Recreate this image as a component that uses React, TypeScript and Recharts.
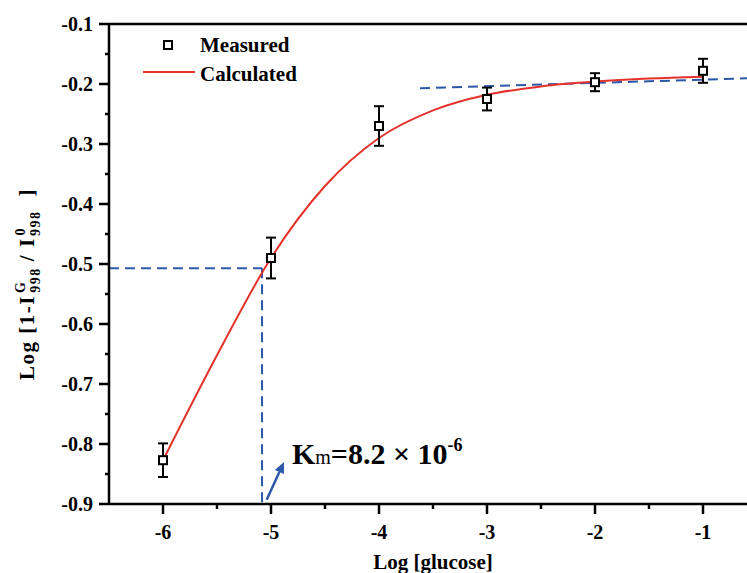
import React from 'react';
import {
  ComposedChart,
  XAxis,
  YAxis,
  Line,
  Scatter,
  ErrorBar,
  ReferenceLine,
  ReferenceDot,
  Legend,
} from 'recharts';

// measured points (log glucose vs log[1 - I/I0])
const logGlucose = [-6, -5, -4, -3, -2, -1];
const measured = [-0.827, -0.49, -0.27, -0.225, -0.197, -0.178];
const measuredErr = [0.028, 0.034, 0.033, 0.019, 0.015, 0.02];

// calculated curve
const curveX = [-6, -5.5, -5, -4.5, -4, -3.5, -3, -2.5, -2, -1.5, -1];
const curveY = [-0.827, -0.652, -0.49, -0.37, -0.29, -0.244, -0.218, -0.204, -0.196, -0.191, -0.188];

// Km guide lines and plateau line
const kmLogX = -5.083;
const kmLogY = -0.507;
const plateauLine = [
  { x: -3.62, y: -0.207 },
  { x: -0.5, y: -0.19 },
];
const kmArrow = [
  { x: -5.04, y: -0.893 },
  { x: -4.88, y: -0.83 },
];
const kmLabelAt = { x: -4.806, y: -0.833 };

const xMajor = [-6, -5, -4, -3, -2, -1];
const xMinor = [-5.5, -4.5, -3.5, -2.5, -1.5];
const yMajor = [-0.9, -0.8, -0.7, -0.6, -0.5, -0.4, -0.3, -0.2, -0.1];
const yMinor = [-0.85, -0.75, -0.65, -0.55, -0.45, -0.35, -0.25, -0.15];

const measuredData = logGlucose.map((x, i) => ({ x, y: measured[i], err: measuredErr[i] }));
const curveData = curveX.map((x, i) => ({ x, y: curveY[i] }));

const FONT = '"Liberation Serif", "Times New Roman", serif';
const BLUE = '#2b58a8';
const RED = '#e4322b';

const XTick = (props: any) => {
  const { x, y, payload } = props;
  const major = Number.isInteger(payload.value);
  return (
    <g>
      <line x1={x} y1={y} x2={x} y2={y + (major ? 10 : 5)} stroke="#000" strokeWidth={2.5} />
      {major && (
        <text x={x} y={y + 35} textAnchor="middle" fontFamily={FONT} fontWeight="bold" fontSize={20} fill="#000">
          {payload.value}
        </text>
      )}
    </g>
  );
};

const YTick = (props: any) => {
  const { x, y, payload } = props;
  const major = Math.round(payload.value * 100) % 10 === 0;
  return (
    <g>
      <line x1={x - (major ? 10 : 4)} y1={y} x2={x} y2={y} stroke="#000" strokeWidth={2.5} />
      {major && (
        <text x={x - 16} y={y} dy="0.35em" textAnchor="end" fontFamily={FONT} fontWeight="bold" fontSize={20} fill="#000">
          {payload.value.toFixed(1)}
        </text>
      )}
    </g>
  );
};

const Square = (props: any) => {
  const { cx, cy } = props;
  return <rect x={cx - 4} y={cy - 4} width={8} height={8} fill="#fff" stroke="#000" strokeWidth={2} />;
};

const Arrow = (props: any) => {
  const { x1, y1, x2, y2 } = props;
  const a = Math.atan2(y2 - y1, x2 - x1);
  const len = 11;
  const w = 5;
  const bx = x2 - len * Math.cos(a);
  const by = y2 - len * Math.sin(a);
  const px = -Math.sin(a) * w;
  const py = Math.cos(a) * w;
  return (
    <g>
      <line x1={x1} y1={y1} x2={bx} y2={by} stroke={BLUE} strokeWidth={2.5} />
      <polygon points={`${x2},${y2} ${bx + px},${by + py} ${bx - px},${by - py}`} fill={BLUE} />
    </g>
  );
};

const KmText = (props: any) => {
  const { cx, cy } = props;
  return (
    <text x={cx} y={cy} fontFamily={FONT} fontWeight="bold" fill="#000">
      <tspan fontSize={30}>K</tspan>
      <tspan fontSize={20} fontWeight="normal">m</tspan>
      <tspan fontSize={30}>=8.2 × 10</tspan>
      <tspan fontSize={18} dy={-13}>-6</tspan>
    </text>
  );
};

const YLabel = (props: any) => {
  const { viewBox } = props;
  const x = viewBox.x + 34;
  const y = viewBox.y + viewBox.height / 2 + 116;
  return (
    <text x={x} y={y} transform={`rotate(-90 ${x} ${y})`} fontFamily={FONT} fontWeight="bold" fontSize={21} fill="#000" letterSpacing={1.5}>
      <tspan>Log [1-I</tspan>
      <tspan fontSize={14} dx={2} dy={-9}>G</tspan>
      <tspan fontSize={14} dx={-12} dy={15}>998</tspan>
      <tspan dy={-6} dx={6}>/ I</tspan>
      <tspan fontSize={14} dx={2} dy={-9}>0</tspan>
      <tspan fontSize={14} dx={-9} dy={15}>998</tspan>
      <tspan dy={-6} dx={14}>]</tspan>
    </text>
  );
};

const LegendBox = () => (
  <svg width={200} height={70}>
    <rect x={29} y={18} width={8} height={8} fill="#fff" stroke="#000" strokeWidth={2} />
    <text x={65} y={29} fontFamily={FONT} fontWeight="bold" fontSize={21} fill="#000">Measured</text>
    <line x1={8} y1={49} x2={60} y2={49} stroke={RED} strokeWidth={2} />
    <text x={65} y={58} fontFamily={FONT} fontWeight="bold" fontSize={21} fill="#000">Calculated</text>
  </svg>
);

export default function App() {
  return (
    <div style={{ position: 'absolute', left: 0, top: 0, width: 747, height: 573, overflow: 'hidden', background: '#fff' }}>
      <ComposedChart width={760} height={573} margin={{ top: 24, right: 3, bottom: 0, left: 0 }}>
        <XAxis
          dataKey="x"
          type="number"
          domain={[-6.5, -0.5]}
          ticks={[...xMajor, ...xMinor].sort((a, b) => a - b)}
          interval={0}
          tick={<XTick />}
          tickLine={false}
          tickSize={0}
          tickMargin={0}
          height={69}
          axisLine={{ stroke: '#000', strokeWidth: 2.5 }}
          label={{
            value: 'Log [glucose]',
            position: 'insideBottom',
            offset: 4,
            style: { fontFamily: FONT, fontWeight: 'bold', fontSize: 21, fill: '#000' },
          }}
        />
        <YAxis
          type="number"
          domain={[-0.9, -0.1]}
          ticks={[...yMajor, ...yMinor].sort((a, b) => a - b)}
          interval={0}
          tick={<YTick />}
          tickLine={false}
          tickSize={0}
          tickMargin={0}
          width={109}
          axisLine={{ stroke: '#000', strokeWidth: 2.5 }}
          label={<YLabel />}
        />
        <ReferenceLine y={-0.1} stroke="#000" strokeWidth={2.5} />
        <ReferenceLine x={-0.5} stroke="#000" strokeWidth={2.5} />
        <ReferenceLine
          segment={[{ x: -6.5, y: kmLogY }, { x: kmLogX, y: kmLogY }]}
          stroke={BLUE}
          strokeWidth={2}
          strokeDasharray="10 6"
        />
        <ReferenceLine
          segment={[{ x: kmLogX, y: kmLogY }, { x: kmLogX, y: -0.9 }]}
          stroke={BLUE}
          strokeWidth={2}
          strokeDasharray="10 6"
        />
        <ReferenceLine segment={plateauLine} stroke={BLUE} strokeWidth={2} strokeDasharray="10 6" />
        <ReferenceLine segment={kmArrow} shape={<Arrow />} />
        <ReferenceDot x={kmLabelAt.x} y={kmLabelAt.y} r={0} shape={<KmText />} />
        <Line
          data={curveData}
          dataKey="y"
          type="monotone"
          stroke={RED}
          strokeWidth={2}
          dot={false}
          isAnimationActive={false}
        />
        <Scatter data={measuredData} dataKey="y" shape={<Square />} isAnimationActive={false}>
          <ErrorBar dataKey="err" direction="y" width={5} stroke="#000" strokeWidth={2} />
        </Scatter>
        <Legend
          layout="horizontal"
          align="center"
          verticalAlign="middle"
          wrapperStyle={{ left: 135, top: 23, width: 200, height: 70 }}
          content={<LegendBox />}
        />
      </ComposedChart>
    </div>
  );
}
